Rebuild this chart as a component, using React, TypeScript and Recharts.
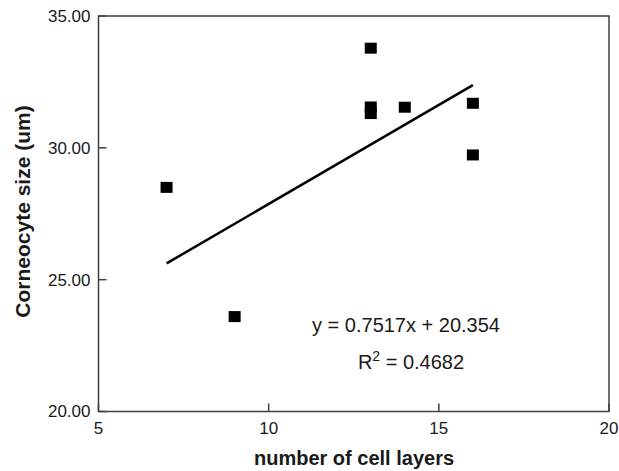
import { ReferenceArea, ReferenceLine, Scatter, ScatterChart, XAxis, YAxis } from "recharts";

const layers = [7, 9, 13, 13, 13, 14, 16, 16];
const sizes = [28.5, 23.6, 33.78, 31.55, 31.3, 31.54, 31.69, 29.73];
const xTicks = [5, 10, 15, 20];
const yTicks = [20, 25, 30, 35];
const slope = 0.7517;
const intercept = 20.354;
const rSquared = "0.4682";

const points = layers.map((x, i) => ({ x, y: sizes[i] }));
const xMin = Math.min(...layers);
const xMax = Math.max(...layers);
const trend = [
  { x: xMin, y: slope * xMin + intercept },
  { x: xMax, y: slope * xMax + intercept },
];

const font = "'Liberation Sans', Arial, sans-serif";
const ink = "#1a1a1a";
const frame = "#404040";

function YTick({ x, y, payload }: any) {
  return (
    <g>
      <line x1={x} x2={x + 8} y1={y} y2={y} stroke={frame} strokeWidth={1.5} />
      <text x={x - 8} y={y} dy="0.35em" textAnchor="end" fontSize={17} fill={ink} fontFamily={font}>
        {Number(payload.value).toFixed(2)}
      </text>
    </g>
  );
}

function XTick({ x, y, payload }: any) {
  return (
    <g>
      <line x1={x} x2={x} y1={y} y2={y - 8} stroke={frame} strokeWidth={1.5} />
      <text x={x} y={y + 16.5} dy="0.35em" textAnchor="middle" fontSize={17} fill={ink} fontFamily={font}>
        {payload.value}
      </text>
    </g>
  );
}

function SquareDot({ cx, cy }: any) {
  return <rect x={cx - 6} y={cy - 5.5} width={12} height={11} fill="#000" />;
}

export default function App() {
  return (
    <div style={{ position: "absolute", left: 0, top: 0, width: 619, height: 471, background: "#fff" }}>
      <ScatterChart width={619} height={471} margin={{ top: 16, right: 10, left: 0, bottom: 0 }}>
        <XAxis
          type="number"
          dataKey="x"
          domain={[5, 20]}
          ticks={xTicks}
          height={59.5}
          axisLine={false}
          tickLine={false}
          tickSize={0}
          tickMargin={0}
          tick={<XTick />}
        />
        <YAxis
          type="number"
          dataKey="y"
          domain={[20, 35]}
          ticks={yTicks}
          width={98.5}
          axisLine={false}
          tickLine={false}
          tickSize={0}
          tickMargin={0}
          tick={<YTick />}
        />
        <ReferenceArea x1={5} x2={20} y1={20} y2={35} fill="none" stroke={frame} strokeWidth={1.5} fillOpacity={0} />
        <ReferenceLine segment={trend} stroke="#000" strokeWidth={2.5} />
        <Scatter data={points} shape={<SquareDot />} isAnimationActive={false} />
      </ScatterChart>
      <svg width={619} height={471} style={{ position: "absolute", left: 0, top: 0, pointerEvents: "none" }}>
        <text
          x={23}
          y={211.5}
          transform="rotate(-90 23 211.5)"
          textAnchor="middle"
          dy="0.35em"
          fontSize={21}
          fontWeight="bold"
          fill={ink}
          fontFamily={font}
        >
          Corneocyte size (um)
        </text>
        <text x={354} y={458} textAnchor="middle" dy="0.35em" fontSize={20} fontWeight="bold" fill={ink} fontFamily={font}>
          number of cell layers
        </text>
        <text x={406} y={325} textAnchor="middle" dy="0.35em" fontSize={20} fill={ink} fontFamily={font}>
          {`y = ${slope}x + ${intercept}`}
        </text>
        <text x={411} y={362} textAnchor="middle" dy="0.35em" fontSize={20} fill={ink} fontFamily={font}>
          R<tspan dy="-8" fontSize={14}>2</tspan>
          <tspan dy="8">{` = ${rSquared}`}</tspan>
        </text>
      </svg>
    </div>
  );
}
